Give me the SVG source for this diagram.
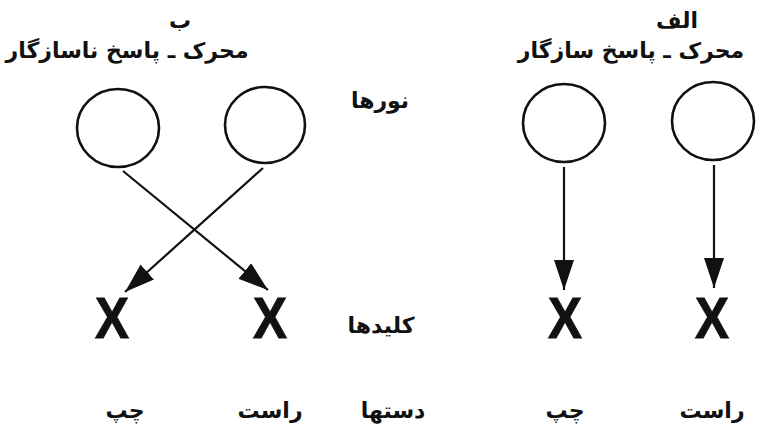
<svg xmlns="http://www.w3.org/2000/svg" width="769" height="448" viewBox="0 0 769 448">
<style>
.bg{fill:#fff}
.neuron{fill:none;stroke:#111;stroke-width:2.6}
.conn{stroke:#111;stroke-width:2.2;fill:none;marker-end:url(#ah)}
.lbl{font-family:"DejaVu Sans",sans-serif;font-weight:bold;font-size:22px;fill:#111;text-anchor:middle}
.key{font-family:"Liberation Sans",Arial,sans-serif;font-weight:bold;font-size:58px;fill:#111;stroke:#111;stroke-width:1;text-anchor:middle}
</style>
<defs>
<marker id="ah" markerUnits="userSpaceOnUse" markerWidth="32" markerHeight="22" refX="30" refY="10" orient="auto">
<path d="M0,0 L30,10 L0,20 z" fill="#111"/>
</marker>
</defs>
<rect class="bg" x="0" y="0" width="769" height="448"/>
<g id="titles">
<text class="lbl" x="677" y="28">الف</text>
<text class="lbl" x="631" y="58">محرک ـ پاسخ سازگار</text>
<text class="lbl" x="180" y="28">ب</text>
<text class="lbl" x="127" y="58">محرک ـ پاسخ ناسازگار</text>
</g>
<g id="row-labels">
<text class="lbl" x="380" y="108">نورها</text>
<text class="lbl" x="381" y="333">کلیدها</text>
<text class="lbl" x="393" y="418">دستها</text>
</g>
<g id="light-b1"><ellipse class="neuron" cx="118" cy="128" rx="41" ry="39"/></g>
<g id="light-b2"><ellipse class="neuron" cx="265" cy="125" rx="40" ry="38"/></g>
<g id="light-a1"><ellipse class="neuron" cx="564" cy="123" rx="41" ry="39"/></g>
<g id="light-a2"><ellipse class="neuron" cx="713" cy="121" rx="41" ry="39"/></g>
<g id="key-b1"><text class="key" x="112" y="338" textLength="34" lengthAdjust="spacingAndGlyphs">X</text></g>
<g id="key-b2"><text class="key" x="270" y="338" textLength="34" lengthAdjust="spacingAndGlyphs">X</text></g>
<g id="key-a1"><text class="key" x="565" y="338" textLength="34" lengthAdjust="spacingAndGlyphs">X</text></g>
<g id="key-a2"><text class="key" x="712" y="338" textLength="34" lengthAdjust="spacingAndGlyphs">X</text></g>
<g id="hand-b1"><text class="lbl" x="125" y="418">چپ</text></g>
<g id="hand-b2"><text class="lbl" x="270" y="418">راست</text></g>
<g id="hand-a1"><text class="lbl" x="565" y="418">چپ</text></g>
<g id="hand-a2"><text class="lbl" x="712" y="418">راست</text></g>
<g id="connectors">
<line class="conn" x1="564" y1="167" x2="564" y2="290"/>
<line class="conn" x1="714" y1="165" x2="714" y2="288"/>
<line class="conn" x1="123" y1="171" x2="268" y2="290"/>
<line class="conn" x1="263" y1="168" x2="125" y2="292"/>
</g>
</svg>
